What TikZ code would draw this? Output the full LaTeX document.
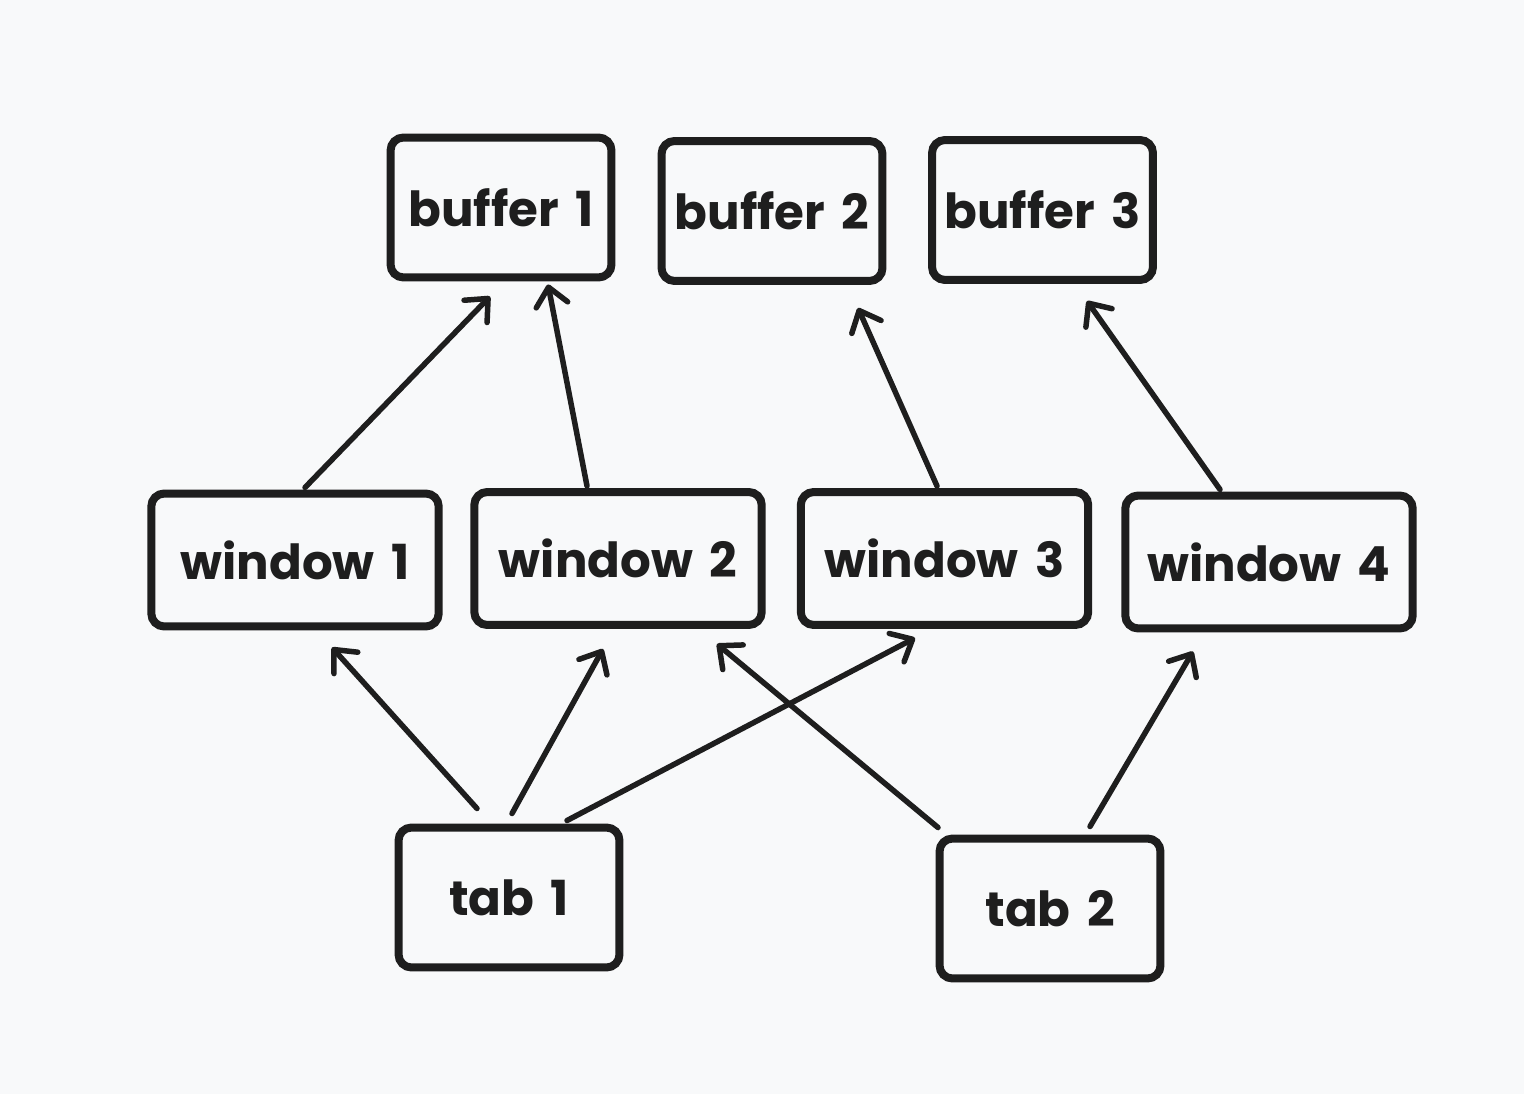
\documentclass[tikz,border=0pt]{standalone}
\usepackage{fontspec}
\setmainfont{Poppins}[WordSpace={1.6}]
\usetikzlibrary{arrows.meta,calc}
\definecolor{ink}{HTML}{1E1E1E}
\definecolor{bg}{HTML}{F8F9FA}
\tikzset{
  box/.style={draw=ink, line width=0.16cm, rounded corners=0.26cm, inner sep=0pt,
    font=\fontsize{27.5}{32}\selectfont\bfseries, text=ink},
  bufbox/.style={box, minimum width=4.42cm, minimum height=2.8cm},
  winbox/.style={box, minimum width=5.75cm, minimum height=2.66cm},
  arr/.style={draw=ink, line width=0.11cm, line cap=round, line join=round,
    -{Straight Barb[length=0.36cm, width=0.64cm, line width=0.11cm, round]}}
}
\begin{document}
\begin{tikzpicture}[x=0.02cm, y=-0.02cm]
\fill[bg] (0,0) rectangle (1524,1094);
\useasboundingbox (0,0) rectangle (1524,1094);
\node[bufbox] (b1) at (501,207.5) {buffer 1};
\node[bufbox] (b2) at (772,211) {buffer 2};
\node[bufbox] (b3) at (1042.5,210) {buffer 3};
\node[winbox] (w1) at (295,560) {window 1};
\node[winbox] (w2) at (618,558.5) {window 2};
\node[winbox] (w3) at (944.5,558.5) {window 3};
\node[winbox] (w4) at (1269,562) {window 4};
\node[bufbox] (t1) at (509,897.5) {tab 1};
\node[bufbox] (t2) at (1050,908.5) {tab 2};
% windows to buffers
\draw[arr] ($(w1.north)+(10,-2)$) -- ($(b1.south)+(-11,15)$);
\draw[arr] ($(w2.north)+(-31,-2)$) -- ($(b1.south)+(47,3)$);
\draw[arr] ($(w3.north)+(-7.5,-2)$) -- ($(b2.south)+(86,23)$);
\draw[arr] ($(w4.north)+(-49,-2)$) -- ($(b3.south)+(44.5,17)$);
% tabs to windows
\draw[arr] ($(t1.north)+(-32,-15)$) -- ($(w1.south)+(37,17)$);
\draw[arr] ($(t1.north)+(3,-10)$) -- ($(w2.south)+(-15,20)$);
\draw[arr] ($(t1.north)+(58,-3)$) -- ($(w3.south)+(-29.5,9)$);
\draw[arr] ($(t2.north)+(-112,-7)$) -- ($(w2.south)+(99,15)$);
\draw[arr] ($(t2.north)+(40,-8)$) -- ($(w4.south)+(-76,19)$);
\end{tikzpicture}
\end{document}
